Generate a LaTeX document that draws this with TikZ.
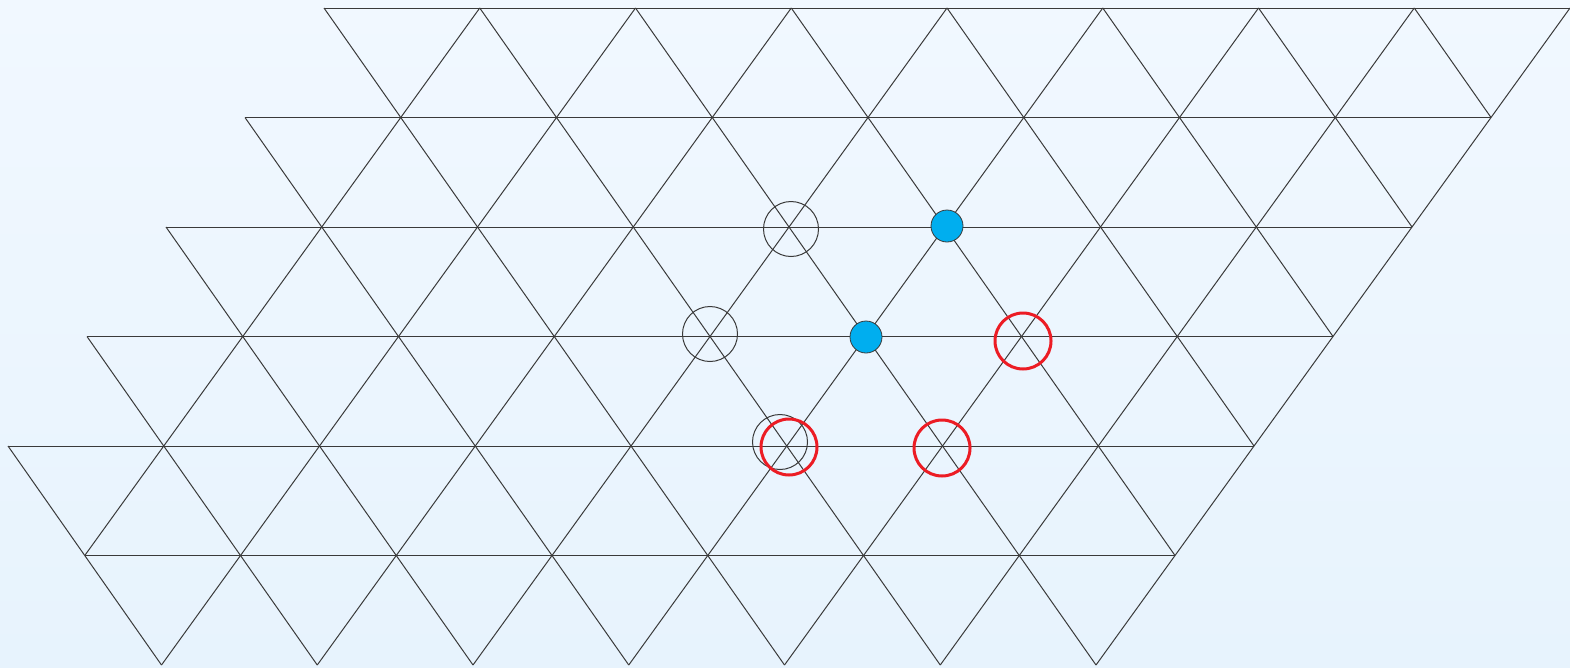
\documentclass[tikz,border=0pt]{standalone}
\usepackage{tikz}

\definecolor{bgtop}{RGB}{241,248,255}
\definecolor{bgbot}{RGB}{231,243,253}
\definecolor{atomblue}{RGB}{0,174,239}
\definecolor{shiftred}{RGB}{236,28,36}
\definecolor{latline}{RGB}{58,58,58}

\begin{document}
\begin{tikzpicture}[x=1pt, y=-1pt,
  bond/.style={latline, line width=1pt},
  site/.style={circle, draw=latline, line width=1pt, minimum size=55pt, inner sep=0pt},
  shifted/.style={circle, draw=shiftred, line width=3pt, minimum size=56pt, inner sep=0pt},
  atom/.style={circle, draw=latline, fill=atomblue, line width=0.8pt, minimum size=32pt, inner sep=0pt}]
  \shade[top color=bgtop, bottom color=bgbot] (0,0) rectangle (1570,667);
  \useasboundingbox (0,0) rectangle (1570,667);
  % lattice points, row r = 0..6
  \foreach \r in {0,...,6} {
    \pgfmathtruncatemacro\lo{max(0,\r-4)}
    \foreach \i in {\lo,...,8}
      \coordinate (v\i-\r) at ({324+155.75*\i-79*\r}, {8+109.5*\r});
  }
  % horizontal rows
  \foreach \r in {0,...,5} {
    \pgfmathtruncatemacro\lo{max(0,\r-4)}
    \draw[bond] (v\lo-\r) -- (v8-\r);
  }
  % slanted bonds between row r and r+1
  \foreach \r in {0,...,5} {
    \pgfmathtruncatemacro\nr{\r+1}
    \pgfmathtruncatemacro\lo{max(0,\r-4)}
    \pgfmathtruncatemacro\loo{max(1,\r-3)}
    \foreach \i in {\loo,...,8}
      \draw[bond] (v\i-\r) -- (v\i-\nr);
    \foreach \i [evaluate=\i as \j using int(\i+1)] in {\lo,...,7}
      \draw[bond] (v\i-\r) -- (v\j-\nr);
  }
  % open sites
  \node[site] (s1) at (791,229) {};
  \node[site] (s2) at (710,334) {};
  \node[site] (s3) at (780,442) {};
  % shifted sites
  \node[shifted] (t1) at (789,447) {};
  \node[shifted] (t2) at (942,448) {};
  \node[shifted] (t3) at (1023,341) {};
  % filled atoms
  \node[atom] (a1) at (947,226) {};
  \node[atom] (a2) at (866,337) {};
\end{tikzpicture}
\end{document}
